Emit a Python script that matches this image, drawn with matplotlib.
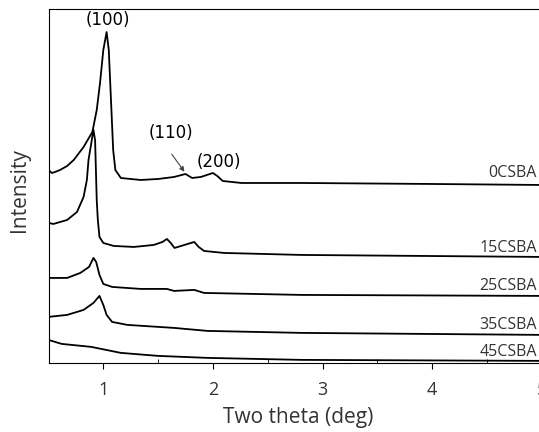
import matplotlib
matplotlib.use("Agg")
import matplotlib.pyplot as plt
from matplotlib.ticker import MultipleLocator

# XRD low-angle patterns (arbitrary intensity units, stacked)
x_0 = [0.50, 0.53, 0.56, 0.605, 0.67, 0.73, 0.82, 0.90, 0.94, 0.97, 1.00, 1.03, 1.05, 1.07, 1.09,
       1.11, 1.16, 1.34, 1.50, 1.645, 1.75, 1.81, 1.89, 2.00, 2.04, 2.09, 2.26, 2.81, 4.0, 5.0]
y_0 = [194, 191, 192, 194, 198, 204, 217, 232, 254, 281, 314, 332, 314, 264, 214,
       194, 186, 184, 185, 187, 190, 186, 187, 191, 188, 183, 181, 181, 180, 179]

x_15 = [0.50, 0.545, 0.67, 0.76, 0.82, 0.85, 0.865, 0.91, 0.925, 0.94, 0.95, 0.965, 1.00, 1.095,
        1.28, 1.46, 1.54, 1.58, 1.615, 1.65, 1.74, 1.83, 1.87, 1.92, 2.10, 2.81, 5.0]
y_15 = [141, 140, 144, 152, 167, 184, 204, 234, 224, 164, 144, 127, 121, 118,
        117, 119, 122, 125, 121, 116, 119, 122, 117, 113, 111, 109, 107]

x_25 = [0.50, 0.67, 0.79, 0.87, 0.91, 0.935, 0.965, 1.00, 1.08, 1.34, 1.58, 1.645, 1.83, 1.92, 2.81, 5.0]
y_25 = [86, 86, 91, 97, 106, 102, 89, 80, 77, 75, 75, 73, 74, 71, 69, 68]

x_35 = [0.50, 0.67, 0.82, 0.91, 0.965, 1.00, 1.03, 1.08, 1.22, 1.645, 1.95, 2.81, 5.0]
y_35 = [47, 49, 54, 61, 68, 59, 49, 42, 39, 36, 33, 31, 29]

x_45 = [0.50, 0.62, 0.89, 0.98, 1.16, 1.50, 1.95, 2.81, 5.0]
y_45 = [24, 20, 17, 15, 11, 8, 6, 4, 3]

samples = ["0CSBA", "15CSBA", "25CSBA", "35CSBA", "45CSBA"]
label_y = [191, 116, 78, 39, 12]

plt.rcParams['font.family'] = ['Open Sans', 'DejaVu Sans']

fig = plt.figure(figsize=(5.39, 4.32), dpi=100)
ax = fig.add_axes([0.09, 0.16, 0.915, 0.819])

for xs, ys in [(x_0, y_0), (x_15, y_15), (x_25, y_25), (x_35, y_35), (x_45, y_45)]:
    ax.plot(xs, ys, color='black', lw=1.3, solid_joinstyle='round')

for name, ly in zip(samples, label_y):
    ax.text(4.955, ly, name, ha='right', va='center', fontsize=11.5, color='#333333')

ax.text(1.04, 344, "(100)", ha='center', va='center', fontsize=12, family='DejaVu Sans')
ax.text(1.615, 231, "(110)", ha='center', va='center', fontsize=12, family='DejaVu Sans')
ax.text(2.055, 202, "(200)", ha='center', va='center', fontsize=12, family='DejaVu Sans')
ax.annotate("", xy=(1.755, 190), xytext=(1.61, 212),
            arrowprops=dict(arrowstyle='-|>', color='#444444', lw=0.8, mutation_scale=7))

ax.set_xlim(0.5, 5.0)
ax.set_ylim(1, 355)
ax.xaxis.set_major_locator(MultipleLocator(1))
ax.xaxis.set_minor_locator(MultipleLocator(0.5))
ax.tick_params(axis='x', which='major', direction='out', length=4, pad=9,
               labelsize=13, labelcolor='#333333')
ax.tick_params(axis='x', which='minor', direction='in', length=3)
ax.set_yticks([])
ax.set_xlabel("Two theta (deg)", fontsize=15, color='#333333')
ax.set_ylabel("Intensity", fontsize=15, color='#333333')
ax.xaxis.set_label_coords(0.506, -0.125)
ax.yaxis.set_label_coords(-0.037, 0.489)

fig.savefig("out.png", dpi=100)
